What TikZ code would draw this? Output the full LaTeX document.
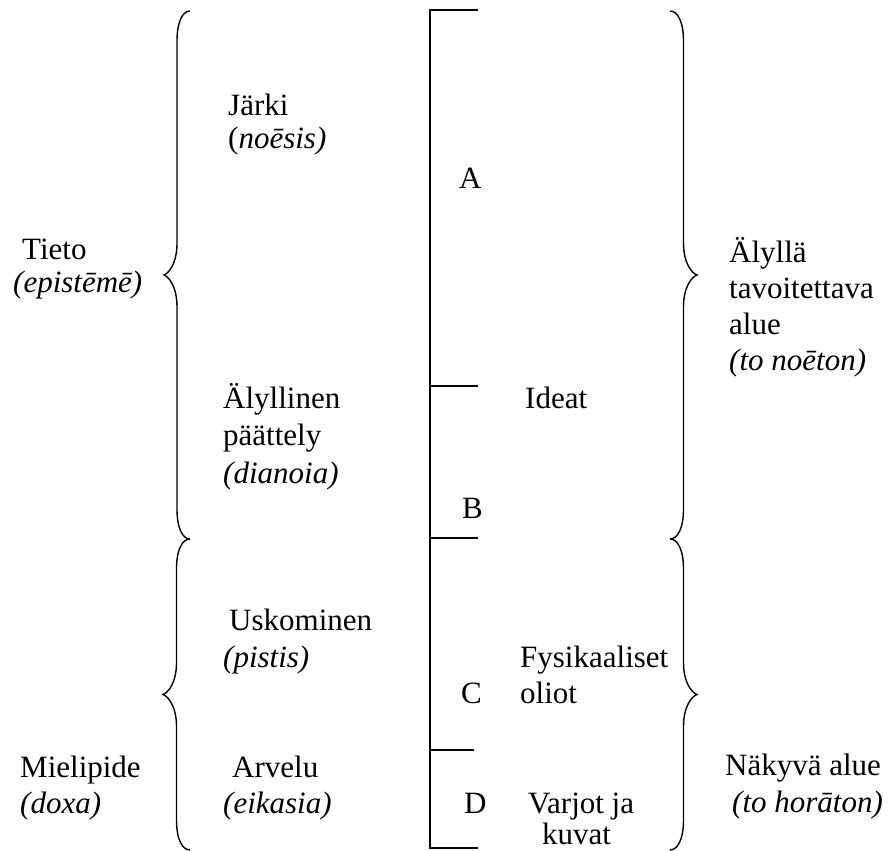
\documentclass[tikz,border=0pt]{standalone}
\usepackage{fontspec}
\setmainfont{Liberation Serif}
\usetikzlibrary{positioning}

% curly brace: x of the ends, top y, bottom y, depth of the tip
\newcommand{\curly}[4]{%
  \draw[brace] (#1,#2) .. controls ({#1+0.27*(#4)},#2) and ({#1+0.5*(#4)},{#2+10}) .. ({#1+0.5*(#4)},{#2+30})
    -- ({#1+0.5*(#4)},{(#2+#3)/2-32})
    .. controls ({#1+0.5*(#4)},{(#2+#3)/2-12}) and ({#1+0.8*(#4)},{(#2+#3)/2-2}) .. ({#1+(#4)},{(#2+#3)/2})
    .. controls ({#1+0.8*(#4)},{(#2+#3)/2+2}) and ({#1+0.5*(#4)},{(#2+#3)/2+12}) .. ({#1+0.5*(#4)},{(#2+#3)/2+32})
    -- ({#1+0.5*(#4)},{#3-30})
    .. controls ({#1+0.5*(#4)},{#3-10}) and ({#1+0.27*(#4)},#3) .. (#1,#3);}

% multi-line nodes sit on the baseline of their last line
\tikzset{
  txt/.style={inner sep=0pt, anchor=base west, align=left, font=\fontsize{31}{37}\selectfont},
  tight/.style={font=\fontsize{31}{32.5}\selectfont},
  brace/.style={line width=1.4pt},
  bracket/.style={line width=2.4pt},
  tick/.style={line width=1.8pt}
}

\begin{document}
\begin{tikzpicture}[x=1pt,y=-1pt]
\useasboundingbox (0,0) rectangle (895,851);

% braces
\curly{190}{11}{539}{-26}
\curly{190}{539}{850}{-27}
\curly{670}{11}{539}{27}
\curly{670}{539}{850}{27}

% the divided line
\draw[bracket] (430,9) -- (430,849);
\foreach \y/\len in {10/48,386/48,538/48,750/44,848/48}
  \draw[tick] (430,\y) -- ++(\len,0);

% left side
\node[txt,tight] (tieto) at (13,292) {\hspace*{9pt}Tieto\\\textit{(epistēmē)}};
\node[txt,font=\fontsize{31}{36}\selectfont] (mielipide) at (20,813) {Mielipide\\\textit{(doxa)}};

% kinds of knowing
\node[txt,tight] (jarki) at (228,148) {Järki\\(\textit{noēsis)}};
\node[txt,font=\fontsize{31}{37.5}\selectfont] (alyllinen) at (223,483) {Älyllinen\\päättely\\\textit{(dianoia)}};
\node[txt] (uskominen) at (223,667) {\hspace*{6pt}Uskominen\\\textit{(pistis)}};
\node[txt,font=\fontsize{31}{36}\selectfont] (arvelu) at (223,813) {\hspace*{9pt}Arvelu\\\textit{(eikasia)}};

% sections of the line
\node[txt] (secA) at (459,188) {A};
\node[txt] (secB) at (462,518) {B};
\node[txt] (secC) at (461,703) {C};
\node[txt] (secD) at (464,813) {D};

% objects
\node[txt] (ideat) at (525,408) {Ideat};
\node[txt,font=\fontsize{31}{36}\selectfont] (fysikaaliset) at (520,703) {Fysikaaliset\\oliot};
\node[txt,font=\fontsize{31}{31}\selectfont] (varjot) at (528,844) {Varjot ja\\\hspace*{14pt}kuvat};

% right side
\node[txt,font=\fontsize{31}{36}\selectfont] (alylla) at (729,370) {Älyllä\\tavoitettava\\alue\\\textit{(to noēton)}};
\node[txt] (nakyva) at (725,812) {Näkyvä alue\\\hspace*{7pt}\textit{(to horāton)}};
\end{tikzpicture}
\end{document}
